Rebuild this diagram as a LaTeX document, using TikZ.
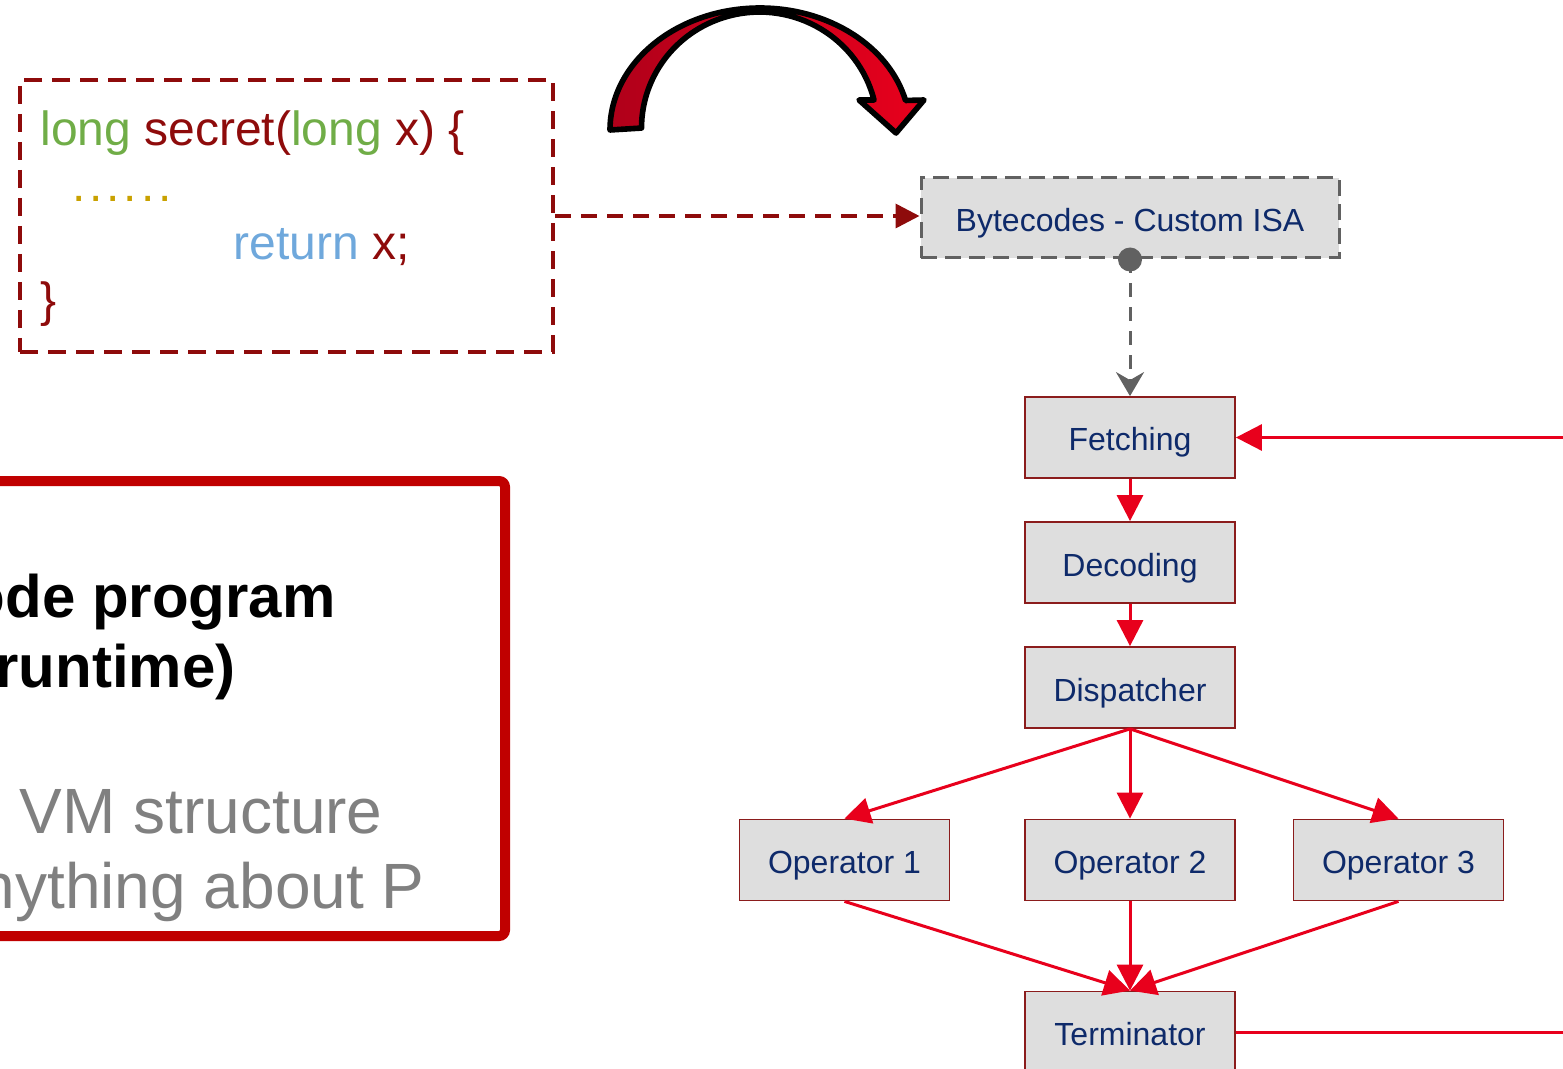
\documentclass[tikz,border=0pt]{standalone}
\usepackage{fontspec}
\setmainfont{Liberation Sans}
\usetikzlibrary{arrows.meta,calc}

\definecolor{codered}{HTML}{8E0B0B}
\definecolor{codegreen}{HTML}{70AD47}
\definecolor{codeblue}{HTML}{6FA8DC}
\definecolor{codegold}{HTML}{C9A100}
\definecolor{boxgray}{HTML}{DEDEDE}
\definecolor{linegray}{HTML}{616161}
\definecolor{navy}{HTML}{0E2A6A}
\definecolor{flowred}{HTML}{E8001C}
\definecolor{arcdark}{HTML}{B0001A}
\definecolor{boxedge}{HTML}{8B1C1C}
\definecolor{framered}{HTML}{C00000}
\definecolor{textgray}{HTML}{808080}

\begin{document}
\begin{tikzpicture}[x=0.5pt,y=-0.5pt,
    op/.style={draw=boxedge,line width=0.9pt,fill=boxgray,text=navy,
        font=\fontsize{16}{19}\selectfont,minimum width=105pt,
        minimum height=40.5pt,inner sep=0pt,text height=15.5pt,text depth=2pt},
    flow/.style={draw=flowred,line width=1.5pt,-{Triangle[length=13pt,width=13pt]}},
    codeline/.style={anchor=base west,inner sep=0pt,font=\fontsize{24}{28}\selectfont}]
\useasboundingbox (0,0) rectangle (1563,1069);

% source code
\node[draw=codered,line width=2pt,dash pattern=on 9pt off 5pt,
    minimum width=266.5pt,minimum height=136pt] (code) at (286.5,216) {};
\node[codeline] (l1) at (40,146) {\textcolor{codegreen}{long} \textcolor{codered}{secret(}\textcolor{codegreen}{long} \textcolor{codered}{x) \{}};
\node[codeline,text=codegold,font=\fontsize{24}{28}\selectfont\addfontfeatures{LetterSpace=8}] (l2) at (72,202) {......};
\node[codeline] (l3) at (233,260) {\textcolor{codeblue}{return} \textcolor{codered}{x;}};
\node[codeline,text=codered] (l4) at (40,317) {\}};

% curved arrow
\draw[line width=2.8pt,line join=round,left color=arcdark,right color=flowred]
    (610,130) arc[start angle=180,end angle=14,x radius=75pt,y radius=61pt]
    -- (924,100) -- (896,133) -- (859,100) -- (874,100)
    arc[start angle=14,end angle=180,x radius=59pt,y radius=58pt] -- cycle;

% vm
\node[op,draw=linegray,line width=1.5pt,dash pattern=on 8pt off 4pt,
    minimum width=209pt,minimum height=40pt] (isa) at (1130,218) {Bytecodes - Custom ISA};
\node[op] (fetch) at (1130,437.5) {Fetching};
\node[op] (decode) at (1130,562.5) {Decoding};
\node[op] (disp) at (1130,687.5) {Dispatcher};
\node[op] (op1) at (844.5,860) {Operator 1};
\node[op] (op2) at (1130,860) {Operator 2};
\node[op] (op3) at (1398.5,860) {Operator 3};
\node[op] (term) at (1130,1032) {Terminator};
\coordinate (back1) at (1600,437.5);
\coordinate (back2) at (1600,1032);

\draw[codered,line width=1.8pt,dash pattern=on 8pt off 5pt,
    -{Triangle[length=12pt,width=12pt]}] (code.east) -- (code.east -| isa.west);
\draw[linegray,line width=1.5pt,dash pattern=on 7pt off 5pt,
    -{Stealth[length=12pt,width=14pt,inset=4pt]}] (isa.south) -- (fetch.north);
\fill[linegray] (isa.south) circle (6pt);

\draw[flow] (back1) -- (fetch);
\draw[flow] (fetch) -- (decode);
\draw[flow] (decode) -- (disp);
\draw[flow] (disp.south) -- (op1.north);
\draw[flow] (disp.south) -- (op2.north);
\draw[flow] (disp.south) -- (op3.north);
\draw[flow] (op1.south) -- (term.north);
\draw[flow] (op2.south) -- (term.north);
\draw[flow] (op3.south) -- (term.north);
\draw[draw=flowred,line width=1.5pt] (term) -- (back2);

% frame
\draw[framered,line width=5pt,rounded corners=3pt] (-30,481) rectangle (505,936);
\node[anchor=base east,inner sep=0pt,font=\bfseries\fontsize{30}{36}\selectfont] (prog) at (336,617) {ode program};
\node[anchor=base east,inner sep=0pt,font=\bfseries\fontsize{30}{36}\selectfont] (rt) at (236,687) {runtime)};
\node[anchor=base east,inner sep=0pt,text=textgray,font=\fontsize{32}{38}\selectfont] (vm) at (383,833) {VM structure};
\node[anchor=base east,inner sep=0pt,text=textgray,font=\fontsize{32}{38}\selectfont] (any) at (425,908) {nything about P};
\end{tikzpicture}
\end{document}
